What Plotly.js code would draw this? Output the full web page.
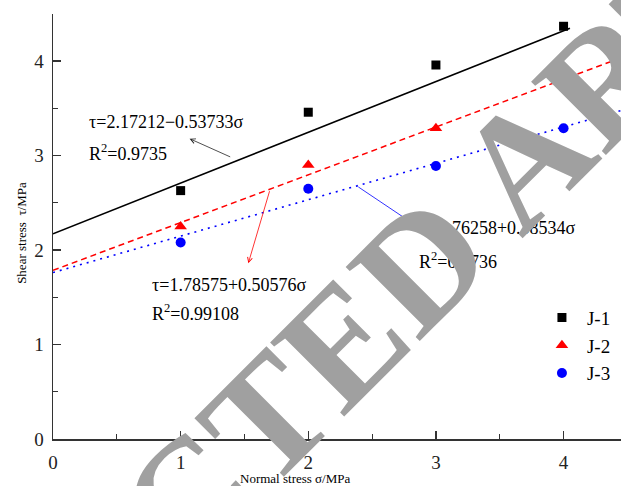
<!DOCTYPE html>
<html>
<head>
<meta charset="utf-8">
<script src="https://cdn.plot.ly/plotly-3.0.1.min.js"></script>
<style>
  html, body { margin: 0; padding: 0; background: #fff; }
  #chart { width: 621px; height: 486px; }
</style>
</head>
<body>
<div id="chart"></div>
<script>
// Normal stress levels (MPa)
const normalStress = [1, 2, 3, 4];

// Measured shear strength (MPa) for each joint sample
const seriesNames = ['J-1', 'J-2', 'J-3'];
const shearJ1 = [2.63, 3.46, 3.96, 4.37];
const shearJ2 = [2.25, 2.90, 3.29, 3.79];
const shearJ3 = [2.08, 2.65, 2.89, 3.29];

// Linear fits: tau = intercept + slope * sigma
const fitIntercepts = [2.17212, 1.78575, 1.76258];
const fitSlopes = [0.53733, 0.50576, 0.38534];
const fitSpans = [[0, 4.05], [0, 4.45], [0, 4.45]];

// Equation / R² labels
const eqLabels = ['τ=2.17212−0.53733σ', 'τ=1.78575+0.50576σ', 'τ=1.76258+0.38534σ'];
const r2Labels = ['R<sup>2</sup>=0.9735', 'R<sup>2</sup>=0.99108', 'R<sup>2</sup>=0.9736'];

const colors = ['#000000', '#ff0000', '#0000ff'];
const serif = 'Liberation Serif, Times New Roman, serif';

function fitLine(i) {
  const xs = fitSpans[i];
  return { x: xs, y: xs.map(v => fitIntercepts[i] + fitSlopes[i] * v) };
}

const traces = [];
const fitDash = ['solid', '6px,4px', '2px,5px'];
const fitWidth = [1.6, 1.5, 1.6];
[0, 1, 2].forEach(i => {
  const f = fitLine(i);
  traces.push({
    x: f.x, y: f.y, mode: 'lines', showlegend: false, hoverinfo: 'skip',
    line: { color: colors[i], width: fitWidth[i], dash: fitDash[i] }
  });
});

const shearData = [shearJ1, shearJ2, shearJ3];
const symbols = ['square', 'triangle-up', 'circle'];
const sizes = [9, 11, 10];
[0, 1, 2].forEach(i => {
  traces.push({
    x: normalStress, y: shearData[i], mode: 'markers', name: seriesNames[i],
    marker: { color: colors[i], symbol: symbols[i], size: sizes[i] }
  });
});

// Text placements (data coordinates)
const eqPos = [[0.27, 3.36], [0.76, 1.63], [2.87, 2.23]];
const r2Pos = [[0.27, 3.03], [0.76, 1.34], [2.85, 1.89]];
// Pointer arrows: tail on the fit line, head near the label
const arrowTail = [[1.40, 2.98], [1.70, 2.64], [2.38, 2.68]];
const arrowHead = [[1.07, 3.18], [1.53, 1.86], [2.81, 2.29]];

const annotations = [];
[0, 1, 2].forEach(i => {
  annotations.push({
    x: eqPos[i][0], y: eqPos[i][1], xref: 'x', yref: 'y', text: eqLabels[i],
    showarrow: false, xanchor: 'left', yanchor: 'middle',
    font: { family: serif, size: 18, color: '#000' }
  });
  annotations.push({
    x: r2Pos[i][0], y: r2Pos[i][1], xref: 'x', yref: 'y', text: r2Labels[i],
    showarrow: false, xanchor: 'left', yanchor: 'middle',
    font: { family: serif, size: 18, color: '#000' }
  });
  annotations.push({
    x: arrowHead[i][0], y: arrowHead[i][1], ax: arrowTail[i][0], ay: arrowTail[i][1],
    xref: 'x', yref: 'y', axref: 'x', ayref: 'y', text: '',
    showarrow: true, arrowhead: 5, arrowsize: 1.2, arrowwidth: 0.8,
    arrowcolor: colors[i] === '#000000' ? '#222' : colors[i], standoff: 0, startstandoff: 0
  });
});

// Axis titles
annotations.push({
  xref: 'paper', yref: 'paper', x: -0.0546, y: 0.485,
  text: 'Shear stress  τ/MPa', textangle: -90, showarrow: false,
  xanchor: 'center', yanchor: 'middle',
  font: { family: serif, size: 13, color: '#000' }
});
annotations.push({
  xref: 'paper', yref: 'paper', x: (295 - 53) / 568, y: 0, yshift: -39,
  text: 'Normal stress σ/MPa', showarrow: false,
  xanchor: 'center', yanchor: 'middle',
  font: { family: serif, size: 13, color: '#000' }
});

// Overlay stamp
annotations.push({
  xref: 'paper', yref: 'paper', x: 0.562, y: 0.300,
  text: '<b>RETRACTED ARTICLE</b>', textangle: -45, showarrow: false,
  xanchor: 'center', yanchor: 'middle',
  font: { family: serif, size: 160, color: '#a0a0a0' }
});

const axisCommon = {
  showgrid: false, zeroline: false, showline: true, linecolor: '#333', linewidth: 1.5,
  ticks: 'inside', ticklen: 8, tickwidth: 1.5, tickcolor: '#333',
  tickfont: { family: serif, size: 19, color: '#222' },
  minor: { dtick: 0.5, ticks: 'inside', ticklen: 5, tickwidth: 1.2, tickcolor: '#333' }
};

const layout = {
  width: 621, height: 486,
  margin: { l: 53, r: 0, t: 14, b: 47 },
  paper_bgcolor: '#fff', plot_bgcolor: '#fff',
  xaxis: Object.assign({}, axisCommon, { range: [0, 4.45], dtick: 1, tick0: 0, ticklabelstandoff: 6 }),
  yaxis: Object.assign({}, axisCommon, { range: [0, 4.5], dtick: 1, tick0: 0, ticklabelstandoff: 4 }),
  showlegend: true,
  legend: {
    x: 0.852, y: 0.33, xanchor: 'left', yanchor: 'top',
    itemwidth: 40,
    bgcolor: 'rgba(0,0,0,0)', borderwidth: 0,
    font: { family: serif, size: 19, color: '#000' }
  },
  annotations: annotations
};

Plotly.newPlot('chart', traces, layout, { displayModeBar: false, staticPlot: true });
</script>
</body>
</html>
